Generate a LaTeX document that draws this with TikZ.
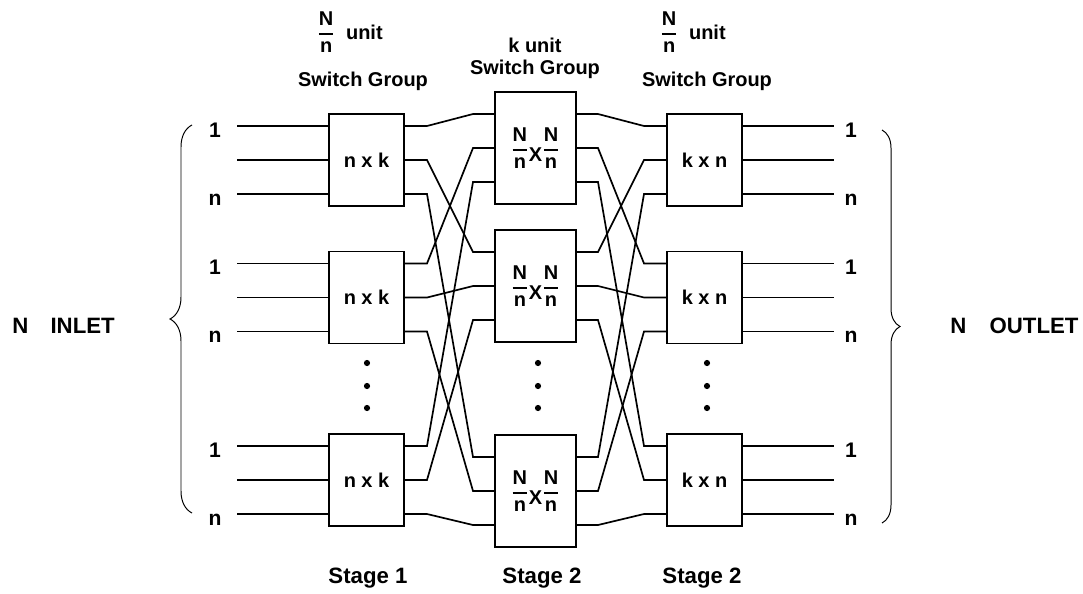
\documentclass[tikz,border=0pt]{standalone}
\usepackage{amsmath}
\usepackage{fontspec}
\setmainfont{Liberation Sans}
\usetikzlibrary{decorations.pathreplacing}

\newcommand{\Nfrac}{\ensuremath{\genfrac{}{}{1.6pt}{0}{\mbox{N}}{\mbox{n}}}}

\begin{document}
\begin{tikzpicture}[x=0.025cm, y=-0.025cm,
  every node/.style={font=\fontsize{14.2}{17}\selectfont\bfseries, inner sep=0pt},
  big/.style={font=\fontsize{15.8}{19}\selectfont\bfseries},
  port/.style={anchor=base, font=\fontsize{15}{18}\selectfont\bfseries},
  wire/.style={line width=1.2pt},
  swbox/.style={draw, line width=1.2pt, minimum width=1.875cm, minimum height=2.3cm},
  midbox/.style={swbox, minimum width=2.025cm, minimum height=2.8cm},
  curly/.style={decorate, decoration={brace, amplitude=#1}, line width=0.7pt}]

  \useasboundingbox (0,0) rectangle (1083,593);

  %% Stage 1 and the last stage (same rows)
  \foreach \b/\yc in {1/160,2/297.5,3/480} {
    \node[swbox] (A\b) at (366.5,\yc) {n x k};
    \node[swbox] (C\b) at (704.5,\yc) {k x n};
    \foreach \j/\dy in {1/-34,2/0,3/34} {
      \coordinate (Ai\b\j) at (237,{\yc+(\dy)});
      \coordinate (Ak\b\j) at (427,{\yc+(\dy)});
      \coordinate (Ck\b\j) at (644,{\yc+(\dy)});
      \coordinate (Co\b\j) at (834,{\yc+(\dy)});
      \draw[wire] (Ai\b\j) -- (Ai\b\j -| A\b.west);
      \draw[wire] (C\b.east |- Co\b\j) -- (Co\b\j);
    }
    \node[port] (li\b1) at (215,\yc-23) {1};
    \node[port] (li\b3) at (215,\yc+45) {n};
    \node[port] (lo\b1) at (851,\yc-23) {1};
    \node[port] (lo\b3) at (851,\yc+45) {n};
  }

  %% Stage 2 (middle)
  \foreach \b/\yc in {1/148,2/286,3/491} {
    \node[midbox] (B\b) at (535.5,\yc) {\Nfrac\raisebox{-0.35em}{X}\Nfrac};
    \foreach \j/\dy in {1/-34,2/0,3/34} {
      \coordinate (Bk\b\j) at (473,{\yc+(\dy)});
      \coordinate (Bq\b\j) at (598,{\yc+(\dy)});
    }
  }

  %% Links between the stages
  \foreach \b in {1,2,3} {
    \foreach \j in {1,2,3} {
      \draw[wire] (A\b.east |- Ak\b\j) -- (Ak\b\j) -- (Bk\j\b) -- (B\j.west |- Bk\j\b);
      \draw[wire] (B\b.east |- Bq\b\j) -- (Bq\b\j) -- (Ck\j\b) -- (C\j.west |- Ck\j\b);
    }
  }

  % dots between the rows
  \foreach \x in {367,538,707}
    \foreach \y in {363,386,408}
      \fill (\x,\y) circle (2.2pt);

  %% Braces and side labels
  \draw[curly=0.55cm] (192,513) -- (192,125);
  \draw[curly=0.45cm] (882,130) -- (882,523);
  \node[big, anchor=base west] (inlet) at (12,333) {N\hspace{1em}INLET};
  \node[big, anchor=base west] (outlet) at (950,333) {N\hspace{1.05em}OUTLET};

  %% Headings
  \node[anchor=base west] (t1) at (317,39) {\Nfrac\hspace{0.55em}unit};
  \node[anchor=base] (g1) at (363,86) {Switch Group};
  \node[anchor=base] (t2) at (535,52) {k unit};
  \node[anchor=base] (g2) at (535,74) {Switch Group};
  \node[anchor=base west] (t3) at (660,39) {\Nfrac\hspace{0.55em}unit};
  \node[anchor=base] (g3) at (707,86) {Switch Group};

  \node[big, anchor=base] (s1) at (368,583) {Stage 1};
  \node[big, anchor=base] (s2) at (542,583) {Stage 2};
  \node[big, anchor=base] (s3) at (702,583) {Stage 2};

\end{tikzpicture}
\end{document}
